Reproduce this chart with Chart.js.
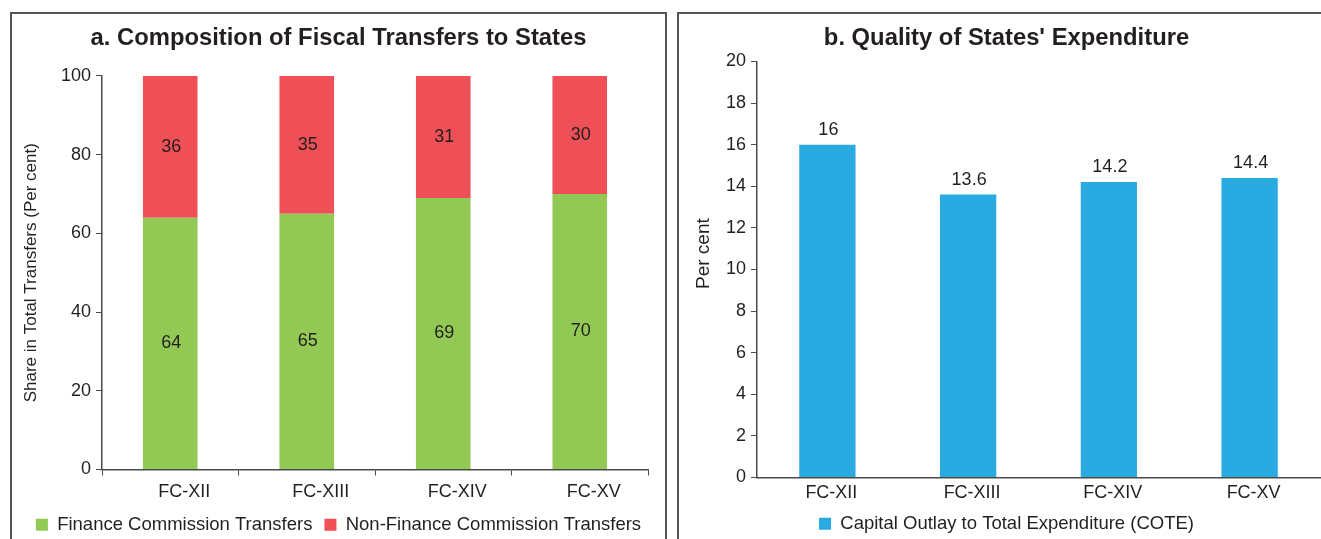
<!DOCTYPE html>
<html>
<head>
<meta charset="utf-8">
<script src="https://cdn.jsdelivr.net/npm/chart.js@4.4.1/dist/chart.umd.min.js"></script>
<style>
  body { margin: 0; background: #fff; width: 1321px; height: 539px; overflow: hidden; position: relative; }
  .panel { position: absolute; top: 12px; height: 600px; border: 2px solid #555; box-sizing: border-box; }
  canvas { position: absolute; top: 14px; }
</style>
</head>
<body>
<div class="panel" style="left:10px; width:657px;"></div>
<div class="panel" style="left:677px; width:700px;"></div>
<canvas id="transfersChart" width="653" height="530" style="left:12px;"></canvas>
<canvas id="qualityChart" width="654" height="529" style="left:679px;"></canvas>
<script>
// Data
const commissions = ['FC-XII', 'FC-XIII', 'FC-XIV', 'FC-XV'];
const fcTransfers = [64, 65, 69, 70];
const nonFcTransfers = [36, 35, 31, 30];
const coteShare = [16, 13.6, 14.2, 14.4];
const shareTicks = [0, 20, 40, 60, 80, 100];
const perCentTicks = [0, 2, 4, 6, 8, 10, 12, 14, 16, 18, 20];

const FONT = '"Liberation Sans", Arial, Helvetica, sans-serif';
const INK = '#231F20';
const AXIS = '#4a4a4a';

Chart.defaults.font.family = FONT;
Chart.defaults.color = INK;
Chart.defaults.animation = false;

// Writes each bar's value, either in the middle of the segment or above it
const valueLabels = {
    id: 'valueLabels',
    afterDatasetsDraw(chart, args, opts) {
        const ctx = chart.ctx;
        ctx.save();
        ctx.font = '18px ' + FONT;
        ctx.fillStyle = INK;
        ctx.textAlign = 'center';
        ctx.textBaseline = 'middle';
        chart.data.datasets.forEach((ds, i) => {
            chart.getDatasetMeta(i).data.forEach((bar, j) => {
                const v = ds.data[j];
                if (opts.inside) {
                    ctx.fillText(String(v), bar.x + 1, (bar.y + bar.base) / 2);
                } else {
                    ctx.fillText(String(v), bar.x + 1, bar.y - 15);
                }
            });
        });
        ctx.restore();
    }
};

// Title and legend are centred on the whole panel, not on the padded area
const centreOnPanel = {
    id: 'centreOnPanel',
    afterLayout(chart, args, opts) {
        [chart.titleBlock, chart.legend].forEach(box => {
            if (box) {
                box.left += opts.dx;
                box.right += opts.dx;
            }
        });
    }
};

function yAxis(ticks, title, titleSize, titlePad, width) {
    return {
        min: ticks[0],
        max: ticks[ticks.length - 1],
        afterBuildTicks(scale) { scale.ticks = ticks.map(v => ({ value: v })); },
        afterFit(scale) { scale.width = width; },
        grid: { drawOnChartArea: false, drawTicks: true, tickLength: 6, color: AXIS, lineWidth: 1 },
        border: { display: true, color: AXIS, width: 1.5 },
        ticks: { padding: 5, font: { size: 18 }, color: INK },
        title: { display: true, text: title, font: { size: titleSize }, color: INK, padding: { top: titlePad, bottom: 0 } }
    };
}

function legendOptions(pad) {
    return {
        position: 'bottom',
        labels: { boxWidth: 12, boxHeight: 12, padding: pad, font: { size: 18.5 }, color: INK }
    };
}

function titleOptions(text, bottomPad) {
    return {
        display: true,
        text: text,
        font: { size: 23.8, weight: 'bold' },
        color: INK,
        padding: { top: 9.7, bottom: bottomPad }
    };
}

// a. Composition of Fiscal Transfers to States
new Chart(document.getElementById('transfersChart'), {
    type: 'bar',
    data: {
        labels: commissions,
        datasets: [{
            label: 'Finance Commission Transfers',
            data: fcTransfers,
            backgroundColor: '#92C955',
            categoryPercentage: 1,
            barPercentage: 0.4
        }, {
            label: 'Non-Finance Commission Transfers',
            data: nonFcTransfers,
            backgroundColor: '#EF5057',
            categoryPercentage: 1,
            barPercentage: 0.4
        }]
    },
    options: {
        responsive: false,
        layout: { padding: { left: 0, right: 17, top: 0, bottom: 0 } },
        plugins: {
            title: titleOptions('a. Composition of Fiscal Transfers to States', 23.7),
            legend: legendOptions(12),
            tooltip: { enabled: false },
            valueLabels: { inside: true },
            centreOnPanel: { dx: 8.5 }
        },
        scales: {
            x: {
                stacked: true,
                afterFit(scale) { scale.height = 34; },
                grid: { offset: true, drawOnChartArea: false, drawTicks: true, tickLength: 6, color: AXIS },
                border: { display: true, color: AXIS, width: 1.5 },
                ticks: { padding: 6, labelOffset: 14, font: { size: 18 }, color: INK }
            },
            y: Object.assign(yAxis(shareTicks, 'Share in Total Transfers (Per cent)', 17, 9, 90), { stacked: true })
        }
    },
    plugins: [valueLabels, centreOnPanel]
});

// b. Quality of States' Expenditure
new Chart(document.getElementById('qualityChart'), {
    type: 'bar',
    data: {
        labels: commissions,
        datasets: [{
            label: 'Capital Outlay to Total Expenditure (COTE)',
            data: coteShare,
            backgroundColor: '#29ABE2',
            categoryPercentage: 1,
            barPercentage: 0.4
        }]
    },
    options: {
        responsive: false,
        layout: { padding: { left: 0, right: 13, top: 0, bottom: 0 } },
        plugins: {
            title: titleOptions("b. Quality of States' Expenditure", 9.2),
            legend: legendOptions(10),
            tooltip: { enabled: false },
            valueLabels: { inside: false },
            centreOnPanel: { dx: 7 }
        },
        scales: {
            x: {
                afterFit(scale) { scale.height = 27; },
                grid: { display: false, drawTicks: false },
                border: { display: true, color: AXIS, width: 1.5 },
                ticks: { padding: 5, labelOffset: 4, font: { size: 18 }, color: INK }
            },
            // leading spaces lift the label a little, as in the reference
            y: yAxis(perCentTicks, '      Per cent', 19, 13, 78)
        }
    },
    plugins: [valueLabels, centreOnPanel]
});
</script>
</body>
</html>
